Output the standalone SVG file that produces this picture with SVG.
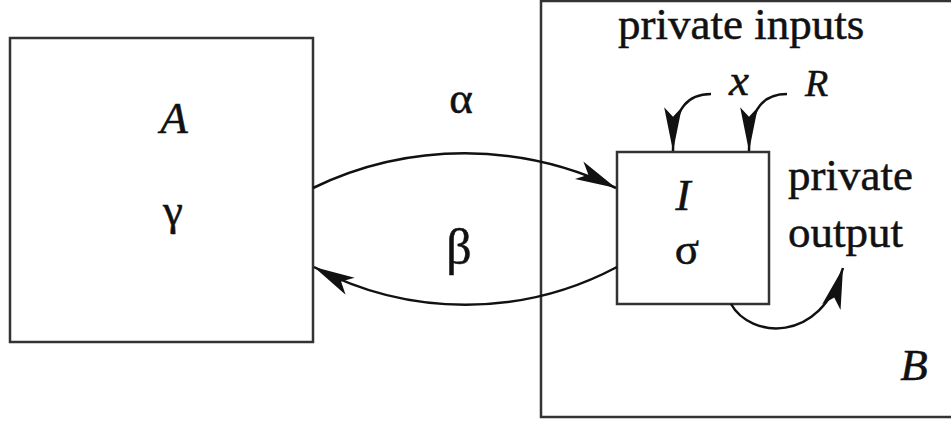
<svg xmlns="http://www.w3.org/2000/svg" width="951" height="421" viewBox="0 0 951 421">
<style>
.box{fill:none;stroke:#333;stroke-width:2.5}
.con{fill:none;stroke:#111;stroke-width:2.5}
.t{font-family:"Liberation Serif","Times New Roman",serif;fill:#111;font-size:45px;stroke:#111;stroke-width:0.5}
.i{font-style:italic}
.m{text-anchor:middle}
</style>
<defs>
<marker id="ah" markerUnits="userSpaceOnUse" markerWidth="50" markerHeight="30" viewBox="-42 -10 44 20" refX="0" refY="0" orient="auto">
<path d="M0,0 L-36,-8.5 L-27,0 L-36,8.5 Z" fill="#111"/>
</marker>
<marker id="ahl" markerUnits="userSpaceOnUse" markerWidth="50" markerHeight="30" viewBox="-46 -10 48 20" refX="0" refY="0" orient="auto">
<path d="M0,0 L-42,-8.5 L-33,0 L-42,8.5 Z" fill="#111"/>
</marker>
</defs>
<rect width="951" height="421" fill="#fff"/>
<g id="nodeA">
<rect class="box" x="10" y="38" width="303" height="304"/>
<text class="t i m" x="174" y="133">A</text>
<text class="t m" x="173" y="225">γ</text>
</g>
<g id="nodeB">
<rect class="box" x="541" y="1" width="415" height="416"/>
<text class="t" x="618" y="39">private inputs</text>
<text class="t i" x="729" y="95">x</text>
<text class="t i" x="805" y="96" style="font-size:38px">R</text>
<text class="t" x="788" y="190">private</text>
<text class="t" x="788" y="247">output</text>
<text class="t i m" x="914" y="380">B</text>
</g>
<g id="nodeI">
<rect class="box" x="617" y="152" width="152" height="152"/>
<text class="t i m" x="683" y="210">I</text>
<text class="t m" x="687" y="264">σ</text>
</g>
<g id="connectors">
<path class="con" d="M313,188 A348,348 0 0 1 616,188" marker-end="url(#ah)"/>
<path class="con" d="M617,267 A323,323 0 0 1 314,267" marker-end="url(#ah)"/>
<path class="con" d="M711,94 C690,94 673,105 673,151" marker-end="url(#ahl)"/>
<path class="con" d="M787,94 C766,94 749,105 749,151" marker-end="url(#ahl)"/>
<path class="con" d="M731,304 C750,338 820,345 843,268" marker-end="url(#ah)"/>
<text class="t m" x="461" y="113">α</text>
<text class="t m" x="459" y="264" style="font-size:50px">β</text>
</g>
</svg>
